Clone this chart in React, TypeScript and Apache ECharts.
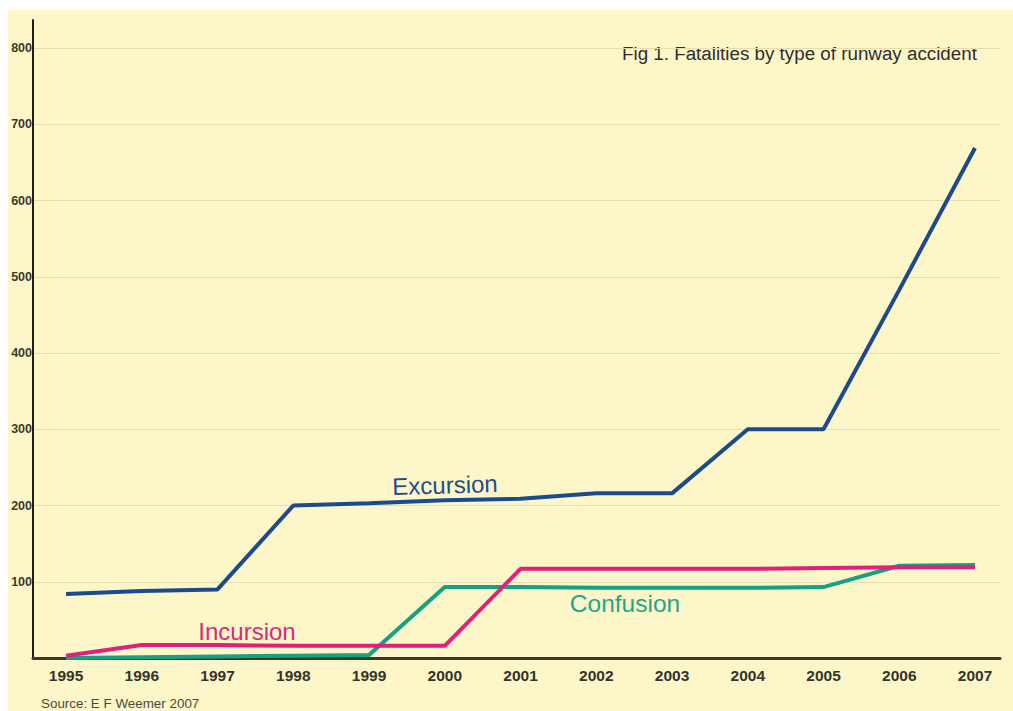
import React, { useEffect, useRef } from "react";
import * as echarts from "echarts";

const years = [1995, 1996, 1997, 1998, 1999, 2000, 2001, 2002, 2003, 2004, 2005, 2006, 2007];
const excursion = [84, 88, 90, 200, 203, 207, 209, 216, 216, 300, 300, 483, 669];
const incursion = [3, 17, 17, 16, 16, 16, 117, 117, 117, 117, 118, 119, 119];
const confusion = [0, 1, 2, 3, 4, 93, 93, 92, 92, 92, 93, 121, 122];
const yTicks = [100, 200, 300, 400, 500, 600, 700, 800];

const title = "Fig 1. Fatalities by type of runway accident";
const source = "Source: E F Weemer 2007";

export default function App() {
  const ref = useRef<HTMLDivElement>(null);
  useEffect(() => {
    if (!ref.current) return;
    const chart = echarts.init(ref.current, null, { renderer: "svg" });
    const pair = (arr: number[]) => years.map((y, i) => [y, arr[i]]);
    const font = "Arial, 'Liberation Sans', Helvetica, sans-serif";
    chart.setOption({
      animation: false,
      backgroundColor: "#ffffff",
      grid: { left: 33, right: 13, top: 20, bottom: 53, containLabel: false },
      xAxis: {
        type: "value",
        min: 1994.564,
        max: 2007.33,
        axisLine: { show: true, lineStyle: { color: "#3a3a28", width: 3 } },
        axisTick: { show: false },
        splitLine: { show: false },
        axisLabel: {
          customValues: years,
          margin: 9,
          color: "#34342a",
          fontWeight: "bold",
          fontSize: 15.5,
          fontFamily: font,
          formatter: (v: number) => String(Math.round(v)),
        },
      },
      yAxis: {
        type: "value",
        min: 0,
        max: 837,
        interval: 100,
        axisLine: { show: true, onZero: false, lineStyle: { color: "#1e1e18", width: 2 } },
        axisTick: { show: false },
        axisLabel: {
          customValues: yTicks,
          margin: 1,
          color: "#3a3a2c",
          fontWeight: "bold",
          fontSize: 12.5,
          fontFamily: font,
        },
        splitLine: {
          show: true,
          showMinLine: false,
          showMaxLine: false,
          lineStyle: { color: "#e8dcaa", width: 1 },
        },
      },
      graphic: [
        {
          type: "rect",
          z: -100,
          silent: true,
          shape: { x: 8, y: 10, width: 1005, height: 701 },
          style: { fill: "#fdf6c9" },
        },
        {
          type: "text",
          x: 622,
          y: 53,
          style: { text: title, fill: "#2e2e2e", font: `18.8px ${font}`, textVerticalAlign: "middle" },
        },
        {
          type: "text",
          x: 41,
          y: 703,
          style: { text: source, fill: "#4a4a44", font: `13.4px ${font}`, textVerticalAlign: "middle" },
        },
        {
          type: "text",
          x: 445,
          y: 485,
          rotation: 0.03,
          style: { text: "Excursion", fill: "#1f4e8a", font: `24px ${font}`, textAlign: "center", textVerticalAlign: "middle" },
        },
        {
          type: "text",
          x: 247,
          y: 631,
          style: { text: "Incursion", fill: "#d82a7c", font: `24px ${font}`, textAlign: "center", textVerticalAlign: "middle" },
        },
        {
          type: "text",
          x: 625,
          y: 603,
          style: { text: "Confusion", fill: "#1da68a", font: `24.5px ${font}`, textAlign: "center", textVerticalAlign: "middle" },
        },
      ],
      series: [
        {
          name: "Confusion",
          type: "line",
          data: pair(confusion),
          symbol: "none",
          lineStyle: { color: "#17a084", width: 4 },
        },
        {
          name: "Incursion",
          type: "line",
          data: pair(incursion),
          symbol: "none",
          lineStyle: { color: "#e0207a", width: 4 },
        },
        {
          name: "Excursion",
          type: "line",
          data: pair(excursion),
          symbol: "none",
          lineStyle: { color: "#1b4b8c", width: 4 },
        },
      ],
    });
    return () => chart.dispose();
  }, []);
  return (
    <div style={{ position: "fixed", left: 0, top: 0, width: 1013, height: 711, background: "#fff" }}>
      <div ref={ref} style={{ width: 1013, height: 711 }} />
    </div>
  );
}
